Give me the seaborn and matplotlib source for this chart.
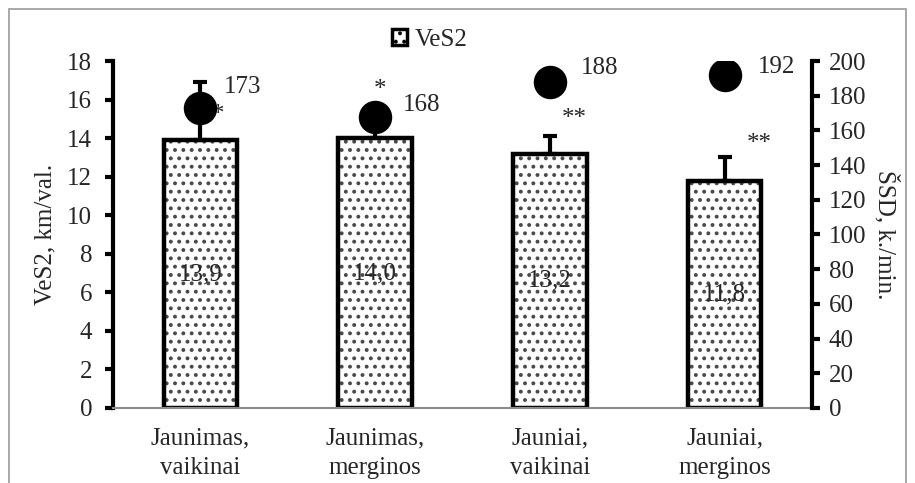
import numpy as np
import pandas as pd
import matplotlib
matplotlib.use("Agg")
import matplotlib.pyplot as plt
import seaborn as sns
from matplotlib.patches import Patch, Rectangle

# ---- data ----
categories = ["Jaunimas,\nvaikinai", "Jaunimas,\nmerginos", "Jauniai,\nvaikinai", "Jauniai,\nmerginos"]
ves2 = [13.9, 14.0, 13.2, 11.8]
ves2_err = [3.0, 1.4, 0.9, 1.2]
ssd = [173, 168, 188, 192]
signif = ["*", "*", "**", "**"]

left_ticks = list(range(0, 19, 2))
right_ticks = list(range(0, 201, 20))

# ---- style ----
sns.set_theme(style="white")
plt.rcParams["font.family"] = ["Liberation Serif", "DejaVu Serif"]
plt.rcParams["hatch.linewidth"] = 1.6
FS = 18

fig = plt.figure(figsize=(9.15, 4.83), dpi=100)
ax = fig.add_axes([0.1235, 0.1553, 0.8874 - 0.1235, 0.8737 - 0.1553])

df = pd.DataFrame({"cat": categories, "ves2": ves2})
# hatch layer
sns.barplot(data=df, x="cat", y="ves2", ax=ax, width=0.42, color="white",
            edgecolor="#4a4a4a", hatch="..", linewidth=0, saturation=1, zorder=2)
# outline layer
sns.barplot(data=df, x="cat", y="ves2", ax=ax, width=0.42, fill=False,
            edgecolor="black", linewidth=3.2, zorder=3)

pos = np.arange(len(categories))
ax.errorbar(pos, ves2, yerr=[np.zeros(len(ves2)), ves2_err], fmt="none",
            ecolor="black", elinewidth=3, capsize=5, capthick=3, zorder=4)

for i, v in enumerate(ves2):
    ax.text(i, v / 2, f"{v:.1f}".replace(".", ","), ha="center", va="center",
            fontsize=FS, zorder=5)

sig_pos = [(0.10, 15.2), (0.03, 16.5), (0.14, 15.0), (0.20, 13.7)]
for s, (dx, y), i in zip(signif, sig_pos, pos):
    ax.text(i + dx, y, s, ha="center", va="center", fontsize=FS, zorder=5)

ax.set_ylim(0, 18)
ax.set_yticks(left_ticks)
ax.set_xlim(-0.5, 3.5)
ax.set_xticks(pos, categories, linespacing=1.45)
ax.set_xlabel("")
ax.set_ylabel("VeS2, km/val.", fontsize=FS, labelpad=8)
ax.tick_params(axis="y", which="both", left=True, direction="out", length=6,
               width=3, labelsize=FS, pad=9, color="black")
ax.tick_params(axis="x", bottom=False, labelsize=FS, pad=8)
ax.spines["left"].set_linewidth(3)
ax.spines["left"].set_color("black")
ax.spines["bottom"].set_color("#8c8c8c")
ax.spines["bottom"].set_linewidth(1.5)
ax.spines["bottom"].set_zorder(6)
ax.spines["top"].set_visible(False)
ax.spines["right"].set_visible(False)

# secondary axis
ax2 = ax.twinx()
sns.scatterplot(x=pos, y=ssd, ax=ax2, s=580, color="black", edgecolor="black",
                linewidth=0, zorder=6, legend=False)
label_off = [(17, 15), (20, 8), (22, 10), (24, 6)]
for i, v in enumerate(ssd):
    ax2.annotate(str(v), (pos[i], v), xytext=label_off[i], textcoords="offset points",
                 ha="left", va="center", fontsize=FS)
ax2.set_ylim(0, 200)
ax2.set_yticks(right_ticks)
ax2.set_ylabel("ŠSD, k./min.", fontsize=FS, rotation=270, labelpad=24)
ax2.tick_params(axis="y", right=True, direction="out", length=6, width=3,
                labelsize=FS, pad=6, color="black")
for sp in ["left", "top", "bottom"]:
    ax2.spines[sp].set_visible(False)
ax2.spines["right"].set_linewidth(3)
ax2.spines["right"].set_color("black")
ax2.grid(False)
ax.grid(False)

# legend
handle = Patch(facecolor="white", edgecolor="black", hatch="..", linewidth=2.5)
fig.legend(handles=[handle], labels=["VeS2"], loc="center", bbox_to_anchor=(0.47, 0.918),
           frameon=False, fontsize=FS, handlelength=0.6, handleheight=0.6,
           handletextpad=0.3, borderpad=0.1)

# outer border
fig.patches.append(Rectangle((9 / 915, -0.02), (906 - 9) / 915, 1 - 9 / 483 + 0.02,
                             transform=fig.transFigure, fill=False,
                             edgecolor="#9a9a9a", linewidth=1.2))

fig.savefig("out.png", dpi=100)
